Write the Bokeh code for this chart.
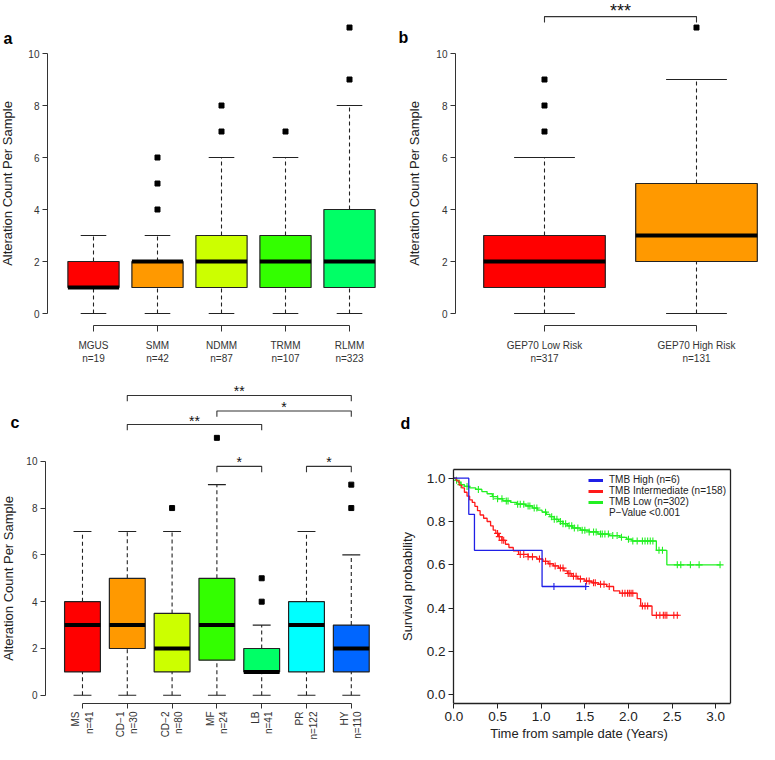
import math
from bokeh.plotting import figure
from bokeh.models import (Range1d, FixedTicker, Label, Legend, LegendItem, ColumnDataSource,
                          PrintfTickFormatter, LinearAxis)
from bokeh.layouts import column, row
from bokeh.embed import file_html
from bokeh.resources import INLINE
from bokeh.core.properties import value

FONT = "Liberation Sans"
RAINBOW = ["#FF0000", "#FF9900", "#CCFF00", "#33FF00", "#00FF66", "#00FFFF", "#0066FF"]
AX = "#333333"

# ---------------- Panel a data ----------------
a_groups = ["MGUS", "SMM", "NDMM", "TRMM", "RLMM"]
a_n = [19, 42, 87, 107, 323]
a_low = [0, 0, 0, 0, 0]
a_q1 = [1, 1, 1, 1, 1]
a_med = [1, 2, 2, 2, 2]
a_q3 = [2, 2, 3, 3, 4]
a_high = [3, 3, 6, 6, 8]
a_out_grp = [2, 2, 2, 3, 3, 4, 5, 5]
a_out_val = [4, 5, 6, 7, 8, 7, 9, 11]

# ---------------- Panel b data ----------------
b_groups = ["GEP70 Low Risk", "GEP70 High Risk"]
b_n = [317, 131]
b_low = [0, 0]
b_q1 = [1, 2]
b_med = [2, 3]
b_q3 = [3, 5]
b_high = [6, 9]
b_out_grp = [1, 1, 1, 2]
b_out_val = [7, 8, 9, 11]
b_sig_from = [1]
b_sig_to = [2]
b_sig_y = [11.42]
b_sig_tick = [11.19]
b_sig_lab = ["***"]

# ---------------- Panel c data ----------------
c_groups = ["MS", "CD\u22121", "CD\u22122", "MF", "LB", "PR", "HY"]
c_n = [41, 30, 80, 24, 41, 122, 110]
c_low = [0, 0, 0, 0, 0, 0, 0]
c_q1 = [1, 2, 1, 1.5, 1, 1, 1]
c_med = [3, 3, 2, 3, 1, 3, 2]
c_q3 = [4, 5, 3.5, 5, 2, 4, 3]
c_high = [7, 7, 7, 9, 3, 7, 6]
c_out_grp = [3, 4, 5, 5, 7, 7]
c_out_val = [8, 11, 4, 5, 8, 9]
c_sig_from = [2, 4, 2, 4, 6]
c_sig_to = [7, 7, 5, 5, 7]
c_sig_y = [12.81, 12.15, 11.57, 9.78, 9.78]
c_sig_tick = [12.56, 11.90, 11.32, 9.53, 9.53]
c_sig_lab = ["**", "*", "**", "*", "*"]

# ---------------- Panel d data (Kaplan-Meier) ----------------
high_t = [0.0, 0.17, 0.235, 1.01, 1.52]
high_s = [1.0, 0.833, 0.667, 0.5, 0.5]
high_cens = [1.146, 1.51]

int_t = [0.0, 0.03, 0.06, 0.09, 0.12, 0.15, 0.18, 0.21, 0.24, 0.27, 0.30, 0.34, 0.38, 0.42,
         0.45, 0.48, 0.51, 0.55, 0.59, 0.63, 0.68, 0.74, 0.85, 0.95, 1.02, 1.08, 1.14, 1.20,
         1.26, 1.30, 1.35, 1.42, 1.50, 1.58, 1.66, 1.75, 1.83, 1.90, 2.10, 2.14, 2.27, 2.58]
int_s = [1.0, 0.987, 0.968, 0.955, 0.935, 0.917, 0.900, 0.888, 0.870, 0.850, 0.830, 0.815, 0.800, 0.780,
         0.760, 0.745, 0.730, 0.713, 0.695, 0.680, 0.665, 0.648, 0.637, 0.627, 0.616, 0.605, 0.595, 0.585,
         0.572, 0.560, 0.547, 0.535, 0.525, 0.517, 0.510, 0.500, 0.480, 0.469, 0.444, 0.410, 0.367, 0.367]
int_cens = [0.50, 0.52, 0.55, 0.57, 0.76, 0.80, 0.85, 0.90, 0.98, 1.05, 1.10, 1.16, 1.22, 1.25,
            1.31, 1.33, 1.37, 1.40, 1.45, 1.52, 1.55, 1.60, 1.62, 1.68, 1.72, 1.78, 1.93, 1.96,
            1.99, 2.01, 2.03, 2.05, 2.16, 2.19, 2.22, 2.32, 2.36, 2.40, 2.42, 2.44, 2.52, 2.56]

low_t = [0.0, 0.02, 0.05, 0.08, 0.12, 0.18, 0.25, 0.32, 0.38, 0.44, 0.50, 0.56, 0.65, 0.72,
         0.82, 0.90, 0.96, 1.01, 1.06, 1.10, 1.15, 1.20, 1.25, 1.30, 1.36, 1.45, 1.55, 1.65,
         1.78, 1.90, 1.98, 2.04, 2.32, 2.44, 3.05]
low_s = [1.0, 0.990, 0.980, 0.970, 0.962, 0.955, 0.948, 0.938, 0.928, 0.915, 0.905, 0.895, 0.888, 0.880,
         0.872, 0.862, 0.852, 0.843, 0.833, 0.822, 0.810, 0.800, 0.790, 0.780, 0.770, 0.760, 0.752, 0.742,
         0.735, 0.727, 0.718, 0.710, 0.667, 0.600, 0.600]
low_cens = [0.03, 0.08, 0.15, 0.28, 0.45, 0.50, 0.55, 0.60, 0.62, 0.73, 0.76, 0.80, 0.85, 0.87,
            0.92, 0.95, 1.05, 1.12, 1.15, 1.18, 1.22, 1.25, 1.28, 1.32, 1.35, 1.38, 1.42, 1.47,
            1.50, 1.55, 1.60, 1.63, 1.68, 1.70, 1.73, 1.77, 1.82, 1.87, 1.92, 2.00, 2.05, 2.10,
            2.16, 2.19, 2.22, 2.25, 2.28, 2.35, 2.39, 2.56, 2.60, 2.71, 2.81, 3.05]
d_labels = ["TMB High (n=6)", "TMB Intermediate (n=158)", "TMB Low (n=302)", "P\u2212Value <0.001"]
d_colors = ["#1F1FE6", "#FF1A1A", "#22F022"]
d_xticks = [0, 0.5, 1.0, 1.5, 2.0, 2.5, 3.0]
d_yticks = [0, 0.2, 0.4, 0.6, 0.8, 1.0]
d_xlim = (-0.005, 3.17)
d_ylim = (-0.04, 1.04)


def box_panel(p, low, q1, med, q3, high, colors, out_grp, out_val, width=0.8):
    xs = list(range(1, len(low) + 1))
    src = ColumnDataSource(dict(
        x=xs, low=low, q1=q1, med=med, q3=q3, high=high, color=colors,
        xl=[x - width / 2 for x in xs], xr=[x + width / 2 for x in xs],
        cl=[x - width / 4 for x in xs], cr=[x + width / 4 for x in xs]))
    kw = dict(source=src, line_color="#222222", line_width=1.1)
    p.segment("x", "q3", "x", "high", line_dash="4 3", **kw)
    p.segment("x", "low", "x", "q1", line_dash="4 3", **kw)
    p.segment("cl", "high", "cr", "high", **kw)
    p.segment("cl", "low", "cr", "low", **kw)
    p.vbar(x="x", width=width, bottom="q1", top="q3", fill_color="color",
           line_color="#222222", line_width=1.2, source=src)
    p.segment("xl", "med", "xr", "med", source=src, line_color="black",
              line_width=4, line_cap="butt")
    p.scatter(out_grp, out_val, marker="square", size=5, color="black")


def sig_brackets(p, x_from, x_to, ys, yt, labs, size, yoff):
    p.multi_line([[a, a, b, b] for a, b in zip(x_from, x_to)],
                 [[t, y, y, t] for y, t in zip(ys, yt)], line_color="#333333", line_width=1.1)
    p.text([(a + b) / 2 for a, b in zip(x_from, x_to)], ys, text=labs, text_align="center",
           text_baseline="alphabetic", y_offset=yoff, text_font=value(FONT),
           text_font_size=size, text_color="#111111")


def r_axes(p, groups, ns, yaxis_at, rotate=False, label_standoff=4, yl_standoff=4):
    p.xgrid.visible = False
    p.ygrid.visible = False
    p.outline_line_color = None
    ya = p.yaxis[0]
    ya.fixed_location = yaxis_at
    ya.bounds = (0, 10)
    ya.ticker = FixedTicker(ticks=[0, 2, 4, 6, 8, 10])
    ya.minor_tick_line_color = None
    ya.major_tick_in = 0
    ya.major_tick_out = 5
    ya.axis_line_color = AX
    ya.major_tick_line_color = AX
    ya.major_label_text_font = FONT
    ya.major_label_text_font_size = "10px"
    ya.major_label_text_color = AX
    ya.major_label_standoff = 3
    ya.axis_label = "Alteration Count Per Sample"
    ya.axis_label_text_font = FONT
    ya.axis_label_text_font_size = "13px"
    ya.axis_label_text_font_style = "normal"
    ya.axis_label_text_color = "#222222"
    ya.axis_label_standoff = yl_standoff
    xa = p.xaxis[0]
    n = len(groups)
    xa.bounds = (1, n)
    xa.ticker = FixedTicker(ticks=list(range(1, n + 1)))
    xa.major_label_overrides = {i + 1: f"{g}\nn={k}" for i, (g, k) in enumerate(zip(groups, ns))}
    xa.minor_tick_line_color = None
    xa.major_tick_in = 0
    xa.major_tick_out = 6
    xa.axis_line_color = AX
    xa.major_tick_line_color = AX
    xa.major_label_text_font = FONT
    xa.major_label_text_font_size = "10px"
    xa.major_label_text_color = AX
    xa.major_label_standoff = label_standoff
    if rotate:
        xa.major_label_orientation = math.pi / 2


def letter(p, txt, x, y):
    p.add_layout(Label(x=x, y=y, x_units="screen", y_units="screen", text=txt,
                       text_font=FONT, text_font_size="16px", text_font_style="bold",
                       text_color="black", text_baseline="alphabetic"))


common = dict(output_backend="svg", toolbar_location=None, background_fill_color="white",
              border_fill_color="white")

# ---- a ----  (frame spans the whole canvas width; y axis fixed inside)
pa = figure(width=380, height=380, x_range=Range1d(-0.453, 5.453), y_range=Range1d(-0.4615, 12.04),
            min_border_left=0, min_border_right=2, min_border_top=0, min_border_bottom=55, **common)
box_panel(pa, a_low, a_q1, a_med, a_q3, a_high, RAINBOW[:5], a_out_grp, a_out_val)
r_axes(pa, a_groups, a_n, 0.281, label_standoff=8, yl_standoff=10)
letter(pa, "a", 3, 287)

# ---- b ----
pb = figure(width=379, height=380, x_range=Range1d(-0.0789, 2.4145), y_range=Range1d(-0.4615, 12.04),
            min_border_left=0, min_border_right=0, min_border_top=0, min_border_bottom=55, **common)
box_panel(pb, b_low, b_q1, b_med, b_q3, b_high, RAINBOW[:2], b_out_grp, b_out_val)
sig_brackets(pb, b_sig_from, b_sig_to, b_sig_y, b_sig_tick, b_sig_lab, "18px", -6)
r_axes(pb, b_groups, b_n, 0.4145, label_standoff=8, yl_standoff=11)
letter(pb, "b", 18, 288)

# ---- c ----
pc = figure(width=380, height=364, x_range=Range1d(-0.830, 7.652), y_range=Range1d(-0.35, 13.45),
            min_border_left=0, min_border_right=0, min_border_top=0, min_border_bottom=41, **common)
box_panel(pc, c_low, c_q1, c_med, c_q3, c_high, RAINBOW[:7], c_out_grp, c_out_val)
sig_brackets(pc, c_sig_from, c_sig_to, c_sig_y, c_sig_tick, c_sig_lab, "14px", -4)
r_axes(pc, c_groups, c_n, 0.174, rotate=True, label_standoff=3, yl_standoff=7)
pc.xaxis[0].major_tick_out = 5
letter(pc, "c", 10, 281)

# ---- d ----
pd_ = figure(width=379, height=364, x_range=Range1d(-0.6355, 3.502), y_range=Range1d(-0.04, 1.4507),
             min_border_left=18, min_border_right=0, min_border_top=0, min_border_bottom=41, **common)
pd_.xgrid.visible = False
pd_.ygrid.visible = False
pd_.outline_line_color = None
x_bottom = pd_.below[0]
y_left = pd_.left[0]


def km_at(ts, ss, t):
    s = ss[0]
    for ti, si in zip(ts, ss):
        if ti <= t:
            s = si
    return s


curves = [(high_t, high_s, high_cens), (int_t, int_s, int_cens), (low_t, low_s, low_cens)]
leg_r = [None, None, None]
for idx in [2, 1, 0]:
    ts, ss, cs = curves[idx]
    pd_.step(ts, ss, mode="after", line_color=d_colors[idx], line_width=1.3)
    pd_.scatter(cs, [km_at(ts, ss, c) for c in cs], marker="cross", size=7,
                line_color=d_colors[idx], line_width=1.1)
    leg_r[idx] = pd_.step(ts, ss, mode="after", line_color=d_colors[idx], line_width=3, visible=False)
leg_r.append(pd_.step(high_t, high_s, mode="after", line_alpha=0))

legend = Legend(items=[LegendItem(label=l, renderers=[r]) for l, r in zip(d_labels, leg_r)],
                location=(190, 185), label_text_font=FONT, label_text_font_size="10px",
                label_text_color="#222222", glyph_width=15, glyph_height=10, label_height=10,
                label_standoff=6, spacing=-1, padding=0, margin=0, border_line_color=None,
                background_fill_alpha=0)
pd_.add_layout(legend)

right_ax = LinearAxis(bounds=d_ylim, fixed_location=d_xlim[1], ticker=FixedTicker(ticks=[]),
                      major_label_text_alpha=0, major_tick_line_color=None, minor_tick_line_color=None,
                      axis_line_color="#222222", axis_line_width=1.3)
pd_.add_layout(right_ax, "right")
top_ax = LinearAxis(bounds=d_xlim, fixed_location=d_ylim[1], ticker=FixedTicker(ticks=[]),
                    major_label_text_alpha=0, major_tick_line_color=None, minor_tick_line_color=None,
                    axis_line_color="#222222", axis_line_width=1.3)
pd_.add_layout(top_ax, "above")

for ax in (x_bottom, y_left):
    ax.axis_line_color = "#222222"
    ax.axis_line_width = 1.3
    ax.minor_tick_line_color = None
    ax.major_tick_in = 0
    ax.major_tick_out = 5
    ax.major_tick_line_color = "#222222"
    ax.major_label_text_font = FONT
    ax.major_label_text_font_size = "13.5px"
    ax.major_label_text_color = "#222222"
    ax.major_label_standoff = 3
    ax.axis_label_text_font = FONT
    ax.axis_label_text_font_size = "13px"
    ax.axis_label_text_font_style = "normal"
    ax.axis_label_text_color = "#222222"
    ax.formatter = PrintfTickFormatter(format="%.1f")
x_bottom.bounds = d_xlim
y_left.bounds = d_ylim
y_left.fixed_location = d_xlim[0]
x_bottom.ticker = FixedTicker(ticks=d_xticks)
y_left.ticker = FixedTicker(ticks=d_yticks)
x_bottom.axis_label = "Time from sample date (Years)"
y_left.axis_label = "Survival probability"
x_bottom.axis_label_standoff = 2
y_left.axis_label_standoff = 9
letter(pd_, "d", 2, 280)

layout = column(row(pa, pb), row(pc, pd_))
open("out.html", "w").write(file_html(layout, INLINE))
